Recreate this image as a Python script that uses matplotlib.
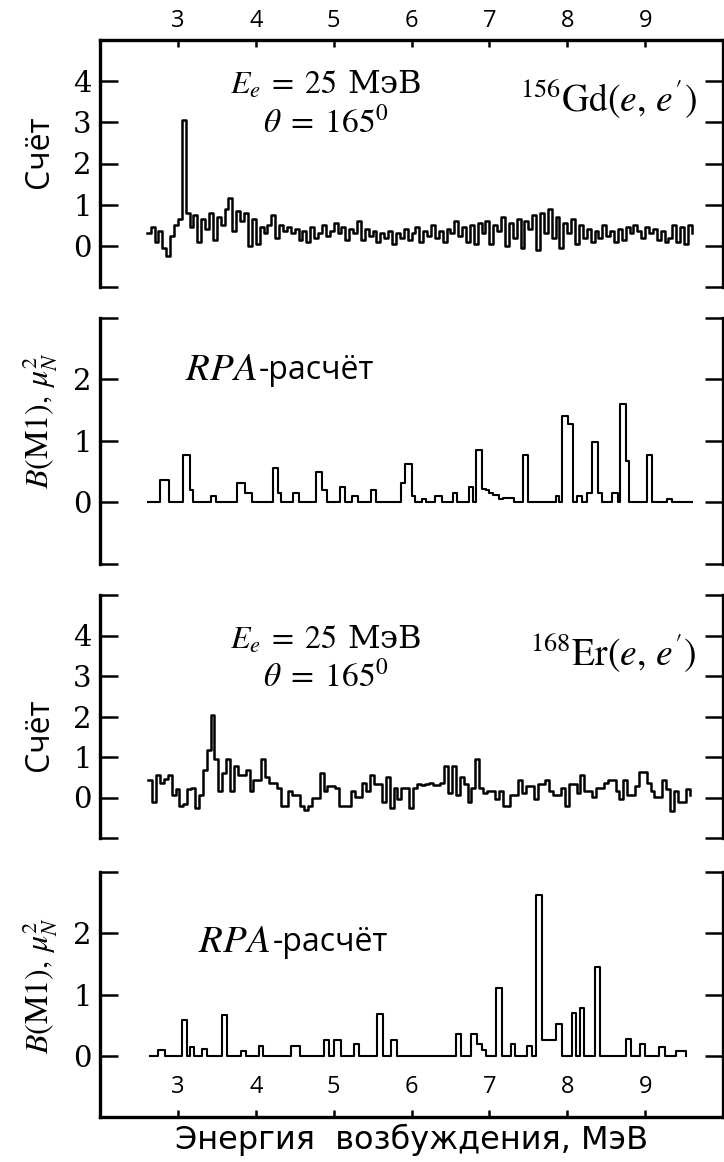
import matplotlib.pyplot as plt
import numpy as np

plt.rcParams['mathtext.fontset'] = 'stix'
plt.rcParams['font.family'] = ['Open Sans', 'DejaVu Sans']

# =============================================================================
# data
# =============================================================================

bin_width = 0.05          # MeV, experimental spectra

# 156Gd(e,e'), counts per bin starting at 2.60 MeV
gd_start = 2.60
gd_counts = [0.3, 0.45, 0.1, 0.35, -0.05, -0.25, 0.25, 0.5, 0.65, 3.05,
             0.8, 0.45, 0.75, 0.1, 0.65, 0.4, 0.8, 0.15, 0.7, 0.5,
             0.9, 1.15, 0.35, 0.85, 0.6, 0.8, 0.0, 0.65, 0.05, 0.45,
             0.3, 0.5, 0.75, 0.2, 0.5, 0.35, 0.45, 0.3, 0.4, 0.15,
             0.35, 0.1, 0.45, 0.2, 0.3, 0.5, 0.25, 0.35, 0.55, 0.3,
             0.45, 0.15, 0.4, 0.3, 0.6, 0.15, 0.4, 0.25, 0.35, 0.1,
             0.3, 0.2, 0.35, 0.05, 0.3, 0.2, 0.4, 0.15, 0.3, 0.45,
             0.1, 0.35, 0.25, 0.5, 0.2, 0.35, 0.1, 0.4, 0.3, 0.6,
             0.25, 0.45, 0.1, 0.5, 0.05, 0.55, 0.3, 0.6, 0.05, 0.5,
             0.35, 0.7, 0.0, 0.55, 0.2, 0.65, -0.05, 0.6, 0.4, 0.75,
             -0.1, 0.8, 0.3, 0.9, 0.2, 0.7, -0.05, 0.55, 0.3, 0.65,
             0.05, 0.5, 0.2, 0.4, 0.1, 0.35, 0.2, 0.5, 0.25, 0.35,
             0.1, 0.4, 0.15, 0.45, 0.3, 0.5, 0.35, 0.2, 0.45, 0.3,
             0.4, 0.15, 0.35, 0.1, 0.2, 0.5, 0.1, 0.45, 0.05, 0.5,
             0.3]

# 168Er(e,e'), counts per bin starting at 2.62 MeV
er_start = 2.62
er_counts = [0.42, -0.1, 0.55, 0.35, 0.45, 0.55, 0.06, 0.2, -0.2, -0.15,
             0.2, 0.24, -0.25, 0.05, 0.68, 1.17, 2.03, 0.95, 0.15, 0.6,
             0.95, 0.15, 0.77, 0.55, 0.55, 0.68, 0.15, 0.42, 0.42, 0.95,
             0.5, 0.37, 0.37, 0.24, -0.2, -0.2, 0.15, 0.06, 0.06, -0.2,
             -0.3, -0.2, 0.0, 0.0, 0.6, 0.15, 0.28, 0.28, 0.24, -0.2,
             -0.2, -0.2, 0.15, 0.02, 0.02, 0.37, 0.15, 0.55, 0.33, 0.33,
             -0.1, 0.5, -0.25, 0.24, -0.03, 0.24, 0.24, -0.25, 0.24, 0.33,
             0.3, 0.33, 0.37, 0.3, 0.3, 0.37, 0.77, 0.1, 0.77, 0.06,
             0.5, 0.33, -0.1, 0.24, 0.95, 0.24, 0.1, 0.15, 0.15, -0.03,
             0.15, -0.2, -0.2, 0.06, 0.06, 0.42, 0.1, 0.28, 0.28, -0.03,
             0.33, 0.33, 0.42, 0.15, 0.06, 0.06, 0.24, -0.2, 0.33, 0.33,
             0.1, 0.55, 0.15, 0.15, 0.02, 0.24, 0.24, 0.37, 0.42, 0.42,
             0.15, -0.03, 0.42, 0.06, 0.06, 0.28, 0.64, 0.64, 0.37, 0.15,
             0.02, 0.02, 0.42, 0.2, -0.34, 0.15, -0.1, -0.1, 0.2, 0.06]

# RPA B(M1) strength, step function: energy where each step starts and its height
gd_rpa_e = [2.61, 2.77, 2.89, 3.06, 3.16, 3.19, 3.42, 3.49, 3.76, 3.86,
            3.95, 4.22, 4.29, 4.33, 4.48, 4.55, 4.78, 4.85, 4.92, 5.08,
            5.15, 5.24, 5.31, 5.48, 5.54, 5.86, 5.92, 6.00, 6.05, 6.14,
            6.19, 6.30, 6.39, 6.53, 6.58, 6.74, 6.79, 6.83, 6.90, 6.96,
            7.00, 7.05, 7.13, 7.18, 7.32, 7.43, 7.49, 7.85, 7.89, 7.93,
            8.01, 8.08, 8.12, 8.19, 8.26, 8.32, 8.39, 8.45, 8.58, 8.65,
            8.68, 8.75, 8.79, 9.02, 9.09, 9.28, 9.35, 9.60]
gd_rpa_b = [0.0, 0.37, 0.0, 0.77, 0.2, 0.0, 0.1, 0.0, 0.31, 0.15,
            0.0, 0.56, 0.15, 0.0, 0.15, 0.0, 0.5, 0.2, 0.0, 0.25,
            0.0, 0.1, 0.0, 0.21, 0.0, 0.32, 0.63, 0.1, 0.0, 0.06,
            0.0, 0.1, 0.0, 0.15, 0.0, 0.25, 0.0, 0.85, 0.22, 0.2,
            0.15, 0.12, 0.05, 0.07, 0.0, 0.78, 0.0, 0.1, 0.0, 1.4,
            1.27, 0.0, 0.1, 0.0, 0.15, 0.99, 0.15, 0.0, 0.15, 0.0,
            1.6, 0.68, 0.0, 0.78, 0.0, 0.05, 0.0, 0.0]

er_rpa_e = [2.64, 2.75, 2.83, 3.05, 3.12, 3.15, 3.21, 3.31, 3.37, 3.57,
            3.63, 3.81, 3.88, 4.04, 4.09, 4.45, 4.57, 4.87, 4.94, 5.00,
            5.10, 5.26, 5.33, 5.56, 5.63, 5.74, 5.81, 6.57, 6.64, 6.77,
            6.84, 6.90, 6.96, 7.09, 7.16, 7.28, 7.33, 7.48, 7.55, 7.60,
            7.68, 7.86, 7.93, 8.06, 8.11, 8.16, 8.22, 8.36, 8.42, 8.75,
            8.82, 8.93, 9.00, 9.18, 9.25, 9.40, 9.53]
er_rpa_b = [0.0, 0.1, 0.0, 0.59, 0.0, 0.14, 0.0, 0.11, 0.0, 0.66,
            0.0, 0.08, 0.0, 0.16, 0.0, 0.16, 0.0, 0.25, 0.0, 0.25,
            0.0, 0.19, 0.0, 0.68, 0.0, 0.25, 0.0, 0.36, 0.0, 0.36,
            0.19, 0.1, 0.0, 1.1, 0.0, 0.19, 0.0, 0.16, 0.0, 2.63,
            0.26, 0.52, 0.0, 0.7, 0.0, 0.78, 0.0, 1.45, 0.0, 0.28,
            0.0, 0.2, 0.0, 0.15, 0.0, 0.08, 0.0]

x_ticks = [3, 4, 5, 6, 7, 8, 9]

# =============================================================================
# figure
# =============================================================================

W, H = 724, 1162
fig = plt.figure(figsize=(W / 100, H / 100), dpi=100)
fig.set_facecolor('w')

x0, x1 = 100, 723
panels = [(40, 287), (318, 564), (595, 838), (872, 1117)]   # top / bottom px
axes = []
for top, bot in panels:
    axes.append(fig.add_axes([x0 / W, 1 - bot / H, (x1 - x0) / W, (bot - top) / H]))
ax1, ax2, ax3, ax4 = axes

ylims = [(-1, 5), (-1, 3), (-1, 5), (-1, 3)]
for ax, (ylo, yhi) in zip(axes, ylims):
    ax.set_xlim(2, 10)
    ax.set_ylim(ylo, yhi)
    yt = list(range(ylo, yhi + 1))
    ax.set_yticks(yt)
    ax.set_yticklabels([str(v) if 0 <= v < yhi else '' for v in yt],
                       fontfamily='DejaVu Serif', fontsize=21)
    ax.tick_params(axis='y', direction='in', left=True, right=True,
                   length=13, width=1.8, pad=6)
    for s in ['left', 'right', 'top', 'bottom']:
        ax.spines[s].set_linewidth(2.4)
    ax.spines['bottom'].set_visible(False)
    ax.spines['top'].set_visible(False)
    ax.set_xticks([])

# top axis
ax1.spines['top'].set_visible(True)
ax1.set_xticks(x_ticks)
ax1.xaxis.tick_top()
ax1.tick_params(axis='x', direction='in', length=5, width=1.8, labelsize=17, pad=5)

# bottom axis, labels inside
ax4.spines['bottom'].set_visible(True)
ax4.set_xticks(x_ticks)
ax4.tick_params(axis='x', direction='in', length=5, width=1.8, labelsize=17, pad=-30)

# spectra
gd_e = gd_start + bin_width * np.arange(len(gd_counts))
er_e = er_start + bin_width * np.arange(len(er_counts))
ax1.plot(gd_e, gd_counts, drawstyle='steps-post', color='k', linewidth=1.8)
ax2.plot(gd_rpa_e, gd_rpa_b, drawstyle='steps-post', color='k', linewidth=1.5)
ax3.plot(er_e, er_counts, drawstyle='steps-post', color='k', linewidth=1.8)
ax4.plot(er_rpa_e, er_rpa_b, drawstyle='steps-post', color='k', linewidth=1.5)

# texts
for ax, nucl in [(ax1, r"$^{156}\mathrm{Gd}(e,\, e')$"),
                 (ax3, r"$^{168}\mathrm{Er}(e,\, e')$")]:
    ax.text(0.363, 0.815, r'$E_e\;=\;25$ МэВ', transform=ax.transAxes,
            ha='center', va='center', fontsize=23, family='DejaVu Serif')
    ax.text(0.363, 0.66, r'$\theta\;=\;165^{0}$', transform=ax.transAxes,
            ha='center', va='center', fontsize=24)
    ax.text(0.958, 0.76, nucl, transform=ax.transAxes,
            ha='right', va='center', fontsize=27)

ax2.text(0.136, 2.15, r'$RPA$', ha='left', va='center', fontsize=28,
         transform=ax2.get_yaxis_transform())
ax2.text(0.255, 2.15, '-расчёт', ha='left', va='center', fontsize=23,
         transform=ax2.get_yaxis_transform())
ax4.text(0.158, 1.85, r'$RPA$', ha='left', va='center', fontsize=28,
         transform=ax4.get_yaxis_transform())
ax4.text(0.277, 1.85, '-расчёт', ha='left', va='center', fontsize=23,
         transform=ax4.get_yaxis_transform())

fig.text(40 / W, 1 - 152 / H, 'Счёт', rotation=90, ha='center', va='center', fontsize=23)
fig.text(40 / W, 1 - 735 / H, 'Счёт', rotation=90, ha='center', va='center', fontsize=23)
fig.text(40 / W, 1 - 420 / H, r'$B(\mathrm{M}1),\, \mu_N^2$', rotation=90,
         ha='center', va='center', fontsize=23)
fig.text(40 / W, 1 - 985 / H, r'$B(\mathrm{M}1),\, \mu_N^2$', rotation=90,
         ha='center', va='center', fontsize=23)

fig.text(412 / W, 1 - 1140 / H, 'Энергия  возбуждения, МэВ', ha='center', va='center',
         fontsize=23, family='DejaVu Sans')

plt.savefig('out.png', dpi=100)
